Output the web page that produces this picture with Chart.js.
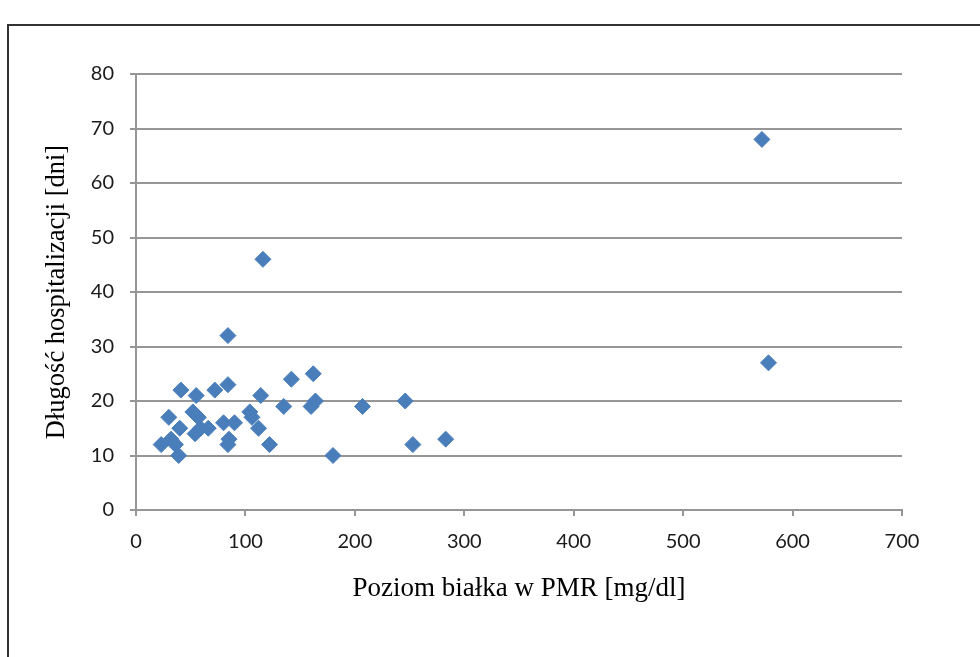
<!DOCTYPE html>
<html>
<head>
<meta charset="utf-8">
<script src="https://cdn.jsdelivr.net/npm/chart.js@4"></script>
<style>
  html, body { margin: 0; padding: 0; background: #fff; }
  #wrap { position: relative; width: 980px; height: 657px; overflow: hidden; }
  #frame { position: absolute; left: 7px; top: 24px; width: 1000px; height: 700px; border: 2px solid #333; box-sizing: border-box; }
  #chart { position: absolute; left: 0; top: 0; }
</style>
</head>
<body>
<div id="wrap">
  <div id="frame"></div>
  <canvas id="chart" width="980" height="657"></canvas>
</div>
<script>
// Poziom białka w PMR [mg/dl]
const bialko = [23, 30, 32, 36, 39, 40, 41, 52, 54, 55, 57, 59, 66, 72, 80, 84, 84, 85, 84,
                90, 104, 106, 112, 114, 116, 122, 135, 142, 160, 162, 164, 180, 207, 246,
                253, 283, 572, 578];
// Długość hospitalizacji [dni]
const dni = [12, 17, 13, 12, 10, 15, 22, 18, 14, 21, 17, 15, 15, 22, 16, 23, 12, 13, 32,
             16, 18, 17, 15, 21, 46, 12, 19, 24, 19, 25, 20, 10, 19, 20,
             12, 13, 68, 27];

const xTicks = [0, 100, 200, 300, 400, 500, 600, 700];
const yTicks = [0, 10, 20, 30, 40, 50, 60, 70, 80];

const punkty = bialko.map((b, i) => ({ x: b, y: dni[i] }));

const gridColor = "#969696";
const tickFont = { family: "Lato, 'Open Sans', sans-serif", size: 20 };
const serif = "'Liberation Serif', 'Times New Roman', serif";

new Chart(document.getElementById("chart").getContext("2d"), {
    type: "scatter",
    data: {
        datasets: [{
            label: "dni",
            data: punkty,
            pointStyle: "rectRot",
            pointRadius: 8,
            pointBorderWidth: 1,
            backgroundColor: "#4a7ebb",
            borderColor: "#4a7ebb"
        }]
    },
    options: {
        responsive: false,
        animation: false,
        events: [],
        layout: { padding: { left: 37, top: 74, right: 78, bottom: 48 } },
        plugins: {
            legend: { display: false },
            tooltip: { enabled: false }
        },
        scales: {
            x: {
                type: "linear",
                min: xTicks[0],
                max: xTicks[xTicks.length - 1],
                afterBuildTicks: s => { s.ticks = xTicks.map(v => ({ value: v })); },
                afterFit: s => { s.height = 99; },
                grid: { drawOnChartArea: false, drawTicks: true, tickLength: 6, color: gridColor, lineWidth: 2 },
                border: { color: gridColor, width: 2 },
                ticks: { font: tickFont, color: "#1a1a1a", padding: 14, maxRotation: 0 },
                title: { display: true, text: "Poziom białka w PMR [mg/dl]", font: { family: serif, size: 27 }, color: "#000", padding: { top: 4, bottom: 4 } }
            },
            y: {
                min: yTicks[0],
                max: yTicks[yTicks.length - 1],
                afterBuildTicks: s => { s.ticks = yTicks.map(v => ({ value: v })); },
                afterFit: s => { s.width = 99; },
                grid: { drawTicks: true, tickLength: 6, color: gridColor, lineWidth: 2 },
                border: { color: gridColor, width: 2 },
                ticks: { font: tickFont, color: "#1a1a1a", padding: 16 },
                title: { display: true, text: "Długość hospitalizacji [dni]", font: { family: serif, size: 26.5 }, color: "#000", padding: { top: 4, bottom: 4 } }
            }
        }
    }
});
</script>
</body>
</html>
